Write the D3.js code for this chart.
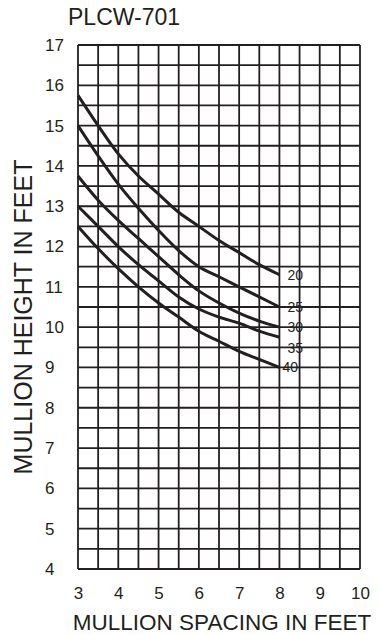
<!DOCTYPE html>
<html><head><meta charset="utf-8">
<script src="https://cdn.jsdelivr.net/npm/d3@7"></script>
<style>html,body{margin:0;padding:0;background:#fff;}svg{display:block;}</style>
</head><body>
<script>
const title = "PLCW-701";
const xTitle = "MULLION SPACING IN FEET";
const yTitle = "MULLION HEIGHT IN FEET";
const xTicks = [3,4,5,6,7,8,9,10];
const yTicks = [4,5,6,7,8,9,10,11,12,13,14,15,16,17];
const spacing = [3,3.5,4,4.5,5,5.5,6,6.5,7,7.5,8];
const seriesNames = ["20","25","30","35","40"];
const h20 = [15.75,15.0,14.3,13.75,13.3,12.85,12.5,12.15,11.85,11.55,11.3];
const h25 = [15.0,14.25,13.55,12.95,12.4,11.9,11.5,11.25,11.0,10.75,10.5];
const h30 = [13.75,13.15,12.65,12.2,11.75,11.3,10.9,10.6,10.35,10.15,10.0];
const h35 = [13.0,12.5,12.0,11.55,11.15,10.75,10.45,10.25,10.1,9.9,9.75];
const h40 = [12.5,11.95,11.45,11.0,10.6,10.25,9.9,9.65,9.4,9.2,9.0];
const seriesValues = [h20,h25,h30,h35,h40];

const W=381,H=635;
const ink="#231f20";
const svg=d3.select("body").append("svg").attr("width",W).attr("height",H);
const x=d3.scaleLinear().domain([3,10]).range([78,360]);
const y=d3.scaleLinear().domain([4,17]).range([569,45]);
const font="Liberation Sans, Arial, sans-serif";

// title
svg.append("text").attr("x",68).attr("y",25).attr("font-family",font).attr("font-size",23).attr("fill",ink).text(title);

// series labels (behind grid)
const labOff=[{dx:8,dy:5},{dx:8,dy:5},{dx:8,dy:5},{dx:8,dy:16},{dx:3,dy:5}];
seriesValues.forEach((vals,i)=>{
  const last=vals.length-1;
  svg.append("text").attr("x",x(spacing[last])+labOff[i].dx).attr("y",y(vals[last])+labOff[i].dy)
    .attr("font-family",font).attr("font-size",14).attr("fill",ink).text(seriesNames[i]);
});

// grid
const g=svg.append("g");
const xs=d3.range(3,10.001,0.5), ys=d3.range(4,17.001,0.5);
g.selectAll("line.v").data(xs).join("line").attr("x1",d=>x(d)).attr("x2",d=>x(d)).attr("y1",y(17)).attr("y2",y(4))
  .attr("stroke",ink).attr("stroke-width",1.8);
g.selectAll("line.h").data(ys).join("line").attr("y1",d=>y(d)).attr("y2",d=>y(d)).attr("x1",x(3)).attr("x2",x(10))
  .attr("stroke",ink).attr("stroke-width",1.8);

// axes labels
const xAxis=d3.axisBottom(x).tickValues(xTicks).tickSize(0).tickFormat(d3.format("d"));
const ax=svg.append("g").attr("transform",`translate(0,${y(4)+15})`).call(xAxis);
ax.select(".domain").remove();
ax.selectAll("text").attr("font-family",font).attr("font-size",17).attr("fill",ink);
const yAxis=d3.axisLeft(y).tickValues(yTicks).tickSize(0).tickFormat(d3.format("d"));
const ay=svg.append("g").attr("transform",`translate(45,0)`).call(yAxis);
ay.select(".domain").remove();
ay.selectAll("text").attr("x",0).attr("text-anchor","start").attr("font-family",font).attr("font-size",17).attr("fill",ink);

svg.append("text").attr("x",222).attr("y",630).attr("text-anchor","middle").attr("font-family",font).attr("font-size",22.5).attr("fill",ink).text(xTitle);
svg.append("text").attr("transform","translate(32,317) rotate(-90)").attr("text-anchor","middle").attr("font-family",font).attr("font-size",25).attr("fill",ink).text(yTitle);

// curves
const line=d3.line().x(d=>x(d[0])).y(d=>y(d[1])).curve(d3.curveCatmullRom);
seriesValues.forEach(vals=>{
  svg.append("path").attr("d",line(spacing.map((s,j)=>[s,vals[j]]))).attr("fill","none").attr("stroke",ink).attr("stroke-width",3);
});
</script>
</body></html>
